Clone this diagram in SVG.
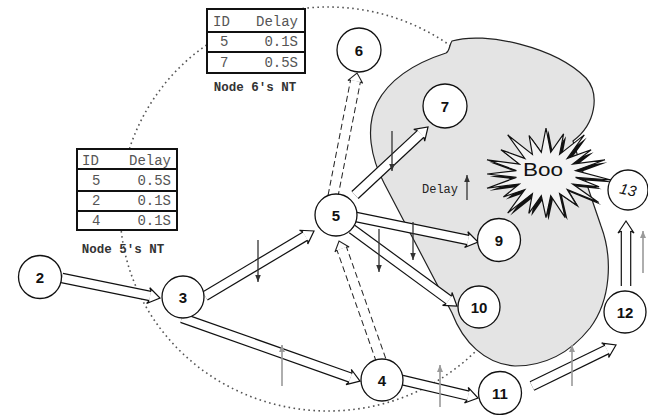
<svg xmlns="http://www.w3.org/2000/svg" width="648" height="415" viewBox="0 0 648 415">
  <style>
    .node circle { fill: #fff; stroke: #111; stroke-width: 1.3; }
    .node text { font-family: "Liberation Sans", Arial, sans-serif; font-weight: bold; font-size: 15px; text-anchor: middle; fill: #111; }
    .case { fill: none; stroke: #111; stroke-width: 10.6; }
    .core { fill: none; stroke: #fff; stroke-width: 8.2; }
    .dcase { fill: none; stroke: #222; stroke-width: 11; stroke-dasharray: 6 3.5; }
    .dcore { fill: none; stroke: #fff; stroke-width: 9; }
    .tick-dark { stroke: #333; stroke-width: 1.3; fill: none; }
    .tick-gray { stroke: #9a9a9a; stroke-width: 1.6; fill: none; }
    .tbl rect { fill: #fff; stroke: #111; stroke-width: 2; }
    .tbl line { stroke: #111; stroke-width: 2; }
    .tbl text { font-family: "Liberation Mono", "Courier New", monospace; font-size: 14px; fill: #555; }
    .tbl .cap { font-size: 12.5px; font-weight: bold; fill: #333; }
    .end { text-anchor: end; }
  </style>
  <defs>
    <!-- open double-line arrowhead for the hollow arrows -->
    <marker id="hollow" markerUnits="userSpaceOnUse" orient="auto" refX="0" refY="0" markerWidth="20" markerHeight="20" style="overflow:visible">
      <path d="M0,-4.7 L-2,-8 L10,0 L-2,8 L0,4.7 Z" fill="#fff"/>
      <path d="M0,-4.7 L-2,-8 L10,0 L-2,8 L0,4.7" fill="none" stroke="#111" stroke-width="1.2"/>
    </marker>
    <marker id="hollow-s" markerUnits="userSpaceOnUse" orient="auto" refX="0" refY="0" markerWidth="20" markerHeight="20" style="overflow:visible">
      <path d="M0,-5 L-1,-7.5 L8,0 L-1,7.5 L0,5 Z" fill="#fff"/>
      <path d="M0,-5 L-1,-7.5 L8,0 L-1,7.5 L0,5" fill="none" stroke="#222" stroke-width="1.1"/>
    </marker>
    <marker id="tip-dark" markerUnits="userSpaceOnUse" orient="auto" refX="0" refY="0" markerWidth="10" markerHeight="10" style="overflow:visible">
      <path d="M0,0 L-7,-2.8 L-7,2.8 Z" fill="#333"/>
    </marker>
    <marker id="tip-gray" markerUnits="userSpaceOnUse" orient="auto" refX="0" refY="0" markerWidth="10" markerHeight="10" style="overflow:visible">
      <path d="M0,0 L-7,-3 L-7,3 Z" fill="#9a9a9a"/>
    </marker>
  </defs>

  <rect width="648" height="415" fill="#fff"/>

  <!-- dotted neighbourhood boundary -->
  <ellipse id="range" cx="328" cy="209" rx="208" ry="202" fill="none" stroke="#555" stroke-width="1.6" stroke-dasharray="1.6 3.4"/>

  <!-- shaded region -->
  <path id="region" d="M452,41 C485,31 555,47 586,78 C600,94 596,124 573,141 C582,170 592,200 601,226 C613,258 611,300 590,328 C570,353 545,366 515,366 C485,364 463,342 452,313 L384,183 C371,158 365,128 377,103 C390,78 418,62 446,53 C450,51 449,45 452,41 Z" fill="#e4e4e4" stroke="#222" stroke-width="1.2"/>

  <!-- burst -->
  <g id="boo">
    <g transform="translate(1,2)">
      <polygon transform="translate(2.5,2.5)" fill="#111" points="610,178 574.6,175.4 598.1,184.8 571.7,182 597.7,200.4 566.2,187.6 576,203.6 558.6,191.6 564.2,215.7 549.7,193.7 545,215.7 540.3,193.7 527.8,211.4 531.4,191.6 506.7,211.1 523.8,187.6 502.4,195 518.3,182 486,186.2 515.4,175.4 486.1,172 515.4,168.6 486,157.8 518.3,162 499.9,147.7 523.8,156.4 506.7,132.9 531.4,152.4 528.1,133.5 540.3,150.3 545,126 549.7,150.3 562.6,131.8 558.6,152.4 583.3,132.9 566.2,156.4 590.1,147.7 571.7,162 604,157.8 574.6,168.6"/>
      <polygon fill="#f3f3f3" stroke="#111" stroke-width="1.2" stroke-linejoin="miter" points="610,178 574.6,175.4 598.1,184.8 571.7,182 597.7,200.4 566.2,187.6 576,203.6 558.6,191.6 564.2,215.7 549.7,193.7 545,215.7 540.3,193.7 527.8,211.4 531.4,191.6 506.7,211.1 523.8,187.6 502.4,195 518.3,182 486,186.2 515.4,175.4 486.1,172 515.4,168.6 486,157.8 518.3,162 499.9,147.7 523.8,156.4 506.7,132.9 531.4,152.4 528.1,133.5 540.3,150.3 545,126 549.7,150.3 562.6,131.8 558.6,152.4 583.3,132.9 566.2,156.4 590.1,147.7 571.7,162 604,157.8 574.6,168.6"/>
    </g>
    <text x="543" y="175.5" textLength="40" lengthAdjust="spacingAndGlyphs" text-anchor="middle" font-family="'Liberation Sans', Arial, sans-serif" font-size="18" fill="#111">Boo</text>
  </g>

  <!-- neighbour tables -->
  <g id="nt6" class="tbl">
    <rect x="207" y="9" width="98" height="64"/>
    <line x1="207" y1="32" x2="305" y2="32"/>
    <line x1="207" y1="52" x2="305" y2="52"/>
    <text x="213" y="26">ID</text>
    <text x="298" y="26" class="end">Delay</text>
    <text x="220" y="46">5</text>
    <text x="298" y="46" class="end">0.1S</text>
    <text x="220" y="67">7</text>
    <text x="298" y="67" class="end">0.5S</text>
    <text x="255" y="91" class="cap" text-anchor="middle">Node 6's NT</text>
  </g>
  <g id="nt5" class="tbl">
    <rect x="77" y="149" width="100" height="81"/>
    <line x1="77" y1="169" x2="177" y2="169"/>
    <line x1="77" y1="191" x2="177" y2="191"/>
    <line x1="77" y1="211" x2="177" y2="211"/>
    <text x="82" y="165">ID</text>
    <text x="171" y="165" class="end">Delay</text>
    <text x="92" y="185">5</text>
    <text x="171" y="185" class="end">0.5S</text>
    <text x="92" y="205">2</text>
    <text x="171" y="205" class="end">0.1S</text>
    <text x="92" y="225">4</text>
    <text x="171" y="225" class="end">0.1S</text>
    <text x="123" y="253" class="cap" text-anchor="middle">Node 5's NT</text>
  </g>

  <!-- connectors -->
  <g id="connectors">
    <path class="dcase" d="M333,196 L355.5,80.9"/>
    <path class="dcore" d="M333,196 L355.5,80.9" marker-end="url(#hollow-s)"/>
    <path class="dcase" d="M381,360 L341.7,248.5"/>
    <path class="dcore" d="M381,360 L341.7,248.5" marker-end="url(#hollow-s)"/>

    <path class="case" d="M62,278 L150.2,296"/>
    <path class="core" d="M62,278 L150.2,296" marker-end="url(#hollow)"/>
    <path class="case" d="M205,296 L305.4,236.1"/>
    <path class="core" d="M205,296 L305.4,236.1" marker-end="url(#hollow)"/>
    <path class="case" d="M182,318 L350.6,377.7"/>
    <path class="core" d="M182,318 L350.6,377.7" marker-end="url(#hollow)"/>
    <path class="case" d="M355,195 L420.7,133.8"/>
    <path class="core" d="M355,195 L420.7,133.8" marker-end="url(#hollow)"/>
    <path class="case" d="M356,217 L468.2,240"/>
    <path class="core" d="M356,217 L468.2,240" marker-end="url(#hollow)"/>
    <path class="case" d="M352,229 L448.9,300.1"/>
    <path class="core" d="M352,229 L448.9,300.1" marker-end="url(#hollow)"/>
    <path class="case" d="M402,380 L468.3,395.7"/>
    <path class="core" d="M402,380 L468.3,395.7" marker-end="url(#hollow)"/>
    <path class="case" d="M532,386 L607,349.4"/>
    <path class="core" d="M532,386 L607,349.4" marker-end="url(#hollow)"/>
    <path class="case" d="M626,286 L626,231"/>
    <path class="core" d="M626,286 L626,231" marker-end="url(#hollow)"/>
  </g>

  <!-- nodes -->
  <g id="n2" class="node"><circle cx="40" cy="277" r="21.5"/><text x="40" y="282.5">2</text></g>
  <g id="n3" class="node"><circle cx="183" cy="297" r="21"/><text x="183" y="302.5">3</text></g>
  <g id="n4" class="node"><circle cx="382" cy="380" r="21"/><text x="382" y="385.5">4</text></g>
  <g id="n5" class="node"><circle cx="336" cy="215" r="21"/><text x="336" y="220.5">5</text></g>
  <g id="n6" class="node"><circle cx="359" cy="50" r="22"/><text x="359" y="55.5">6</text></g>
  <g id="n7" class="node"><circle cx="445" cy="106" r="22"/><text x="445" y="111.5">7</text></g>
  <g id="n9" class="node"><circle cx="499" cy="240" r="21.5"/><text x="499" y="245.5">9</text></g>
  <g id="n10" class="node"><circle cx="479" cy="307" r="21"/><text x="479" y="312.5">10</text></g>
  <g id="n11" class="node"><circle cx="500" cy="393" r="21.5"/><text x="500" y="398.5">11</text></g>
  <g id="n12" class="node"><circle cx="625" cy="312" r="21"/><text x="625" y="317.5">12</text></g>
  <g id="n13" class="node"><circle cx="628" cy="190" r="20"/><text x="628" y="195" transform="rotate(12 628 190)" style="font-weight:normal;font-style:italic">13</text></g>

  <!-- delay change indicators -->
  <g id="delay-marks">
    <line class="tick-dark" x1="258" y1="240" x2="258" y2="282" marker-end="url(#tip-dark)"/>
    <line class="tick-dark" x1="392" y1="131" x2="392" y2="171" marker-end="url(#tip-dark)"/>
    <line class="tick-dark" x1="379" y1="229" x2="379" y2="272" marker-end="url(#tip-dark)"/>
    <line class="tick-dark" x1="413" y1="222" x2="413" y2="260" marker-end="url(#tip-dark)"/>
    <line class="tick-dark" x1="467" y1="200" x2="467" y2="175" marker-end="url(#tip-dark)"/>
    <line class="tick-gray" x1="282" y1="386" x2="282" y2="345" marker-end="url(#tip-gray)"/>
    <line class="tick-gray" x1="440" y1="407" x2="440" y2="365" marker-end="url(#tip-gray)"/>
    <line class="tick-gray" x1="572" y1="386" x2="572" y2="345" marker-end="url(#tip-gray)"/>
    <line class="tick-gray" x1="643" y1="273" x2="643" y2="231" marker-end="url(#tip-gray)"/>
    <text x="422" y="193" font-family="'Liberation Mono', 'Courier New', monospace" font-size="12" fill="#222">Delay</text>
  </g>
</svg>
